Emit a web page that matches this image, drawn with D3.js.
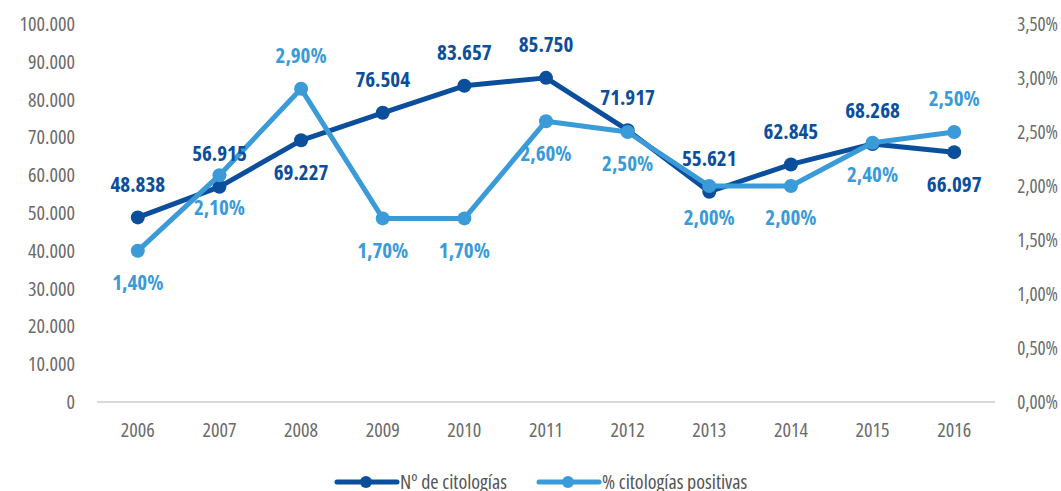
<!DOCTYPE html>
<html>
<head>
<meta charset="utf-8">
<script src="https://cdn.jsdelivr.net/npm/d3@7"></script>
<style>
  body { margin: 0; background: #fff; }
  svg text { font-family: "Open Sans", sans-serif; font-stretch: condensed; }
</style>
</head>
<body>
<div id="chart"></div>
<script>
// Data
const years = ['2006', '2007', '2008', '2009', '2010', '2011', '2012', '2013', '2014', '2015', '2016'];
const citologias = [48838, 56915, 69227, 76504, 83657, 85750, 71917, 55621, 62845, 68268, 66097];
const positivas = [1.40, 2.10, 2.90, 1.70, 1.70, 2.60, 2.50, 2.00, 2.00, 2.40, 2.50];
const leftTicks = [0, 10000, 20000, 30000, 40000, 50000, 60000, 70000, 80000, 90000, 100000];
const rightTicks = [0, 0.5, 1, 1.5, 2, 2.5, 3, 3.5];
// label side for each point
const citoLabelSide = ['up', 'up', 'down', 'up', 'up', 'up', 'up', 'up', 'up', 'up', 'down'];
const posLabelSide = ['down', 'down', 'up', 'down', 'down', 'down', 'down', 'down', 'down', 'down', 'up'];
const seriesNames = ['Nº de citologías', '% citologías positivas'];

const darkBlue = '#0b4f9c', lightBlue = '#3a9bd8';
const width = 1061, height = 491;
const margin = {top: 24, right: 66, bottom: 89, left: 97};

const svg = d3.select('#chart').append('svg')
  .attr('width', width)
  .attr('height', height);

const x = d3.scaleBand().domain(years).range([margin.left, width - margin.right]);
const yL = d3.scaleLinear().domain([0, 100000]).range([height - margin.bottom, margin.top]);
const yR = d3.scaleLinear().domain([0, 3.5]).range([height - margin.bottom, margin.top]);
const cx = d => x(d) + x.bandwidth() / 2;

const fmtThousands = d3.formatLocale({decimal: ',', thousands: '.', grouping: [3], currency: ['', '']}).format(',d');
const fmtPct = v => v.toFixed(2).replace('.', ',') + '%';

// Baseline
svg.append('line')
  .attr('x1', margin.left).attr('x2', width - margin.right)
  .attr('y1', yL(0)).attr('y2', yL(0))
  .attr('stroke', '#d9d9d9').attr('stroke-width', 2);

// Left axis labels
svg.append('g').selectAll('text')
  .data(leftTicks).enter().append('text')
  .attr('x', 75)
  .attr('y', d => yL(d))
  .attr('dy', '0.35em')
  .attr('text-anchor', 'end')
  .attr('fill', '#6b6b6b')
  .attr('font-size', 20)
  .text(d => fmtThousands(d));

// Right axis labels
svg.append('g').selectAll('text')
  .data(rightTicks).enter().append('text')
  .attr('x', 1058)
  .attr('y', d => yR(d))
  .attr('dy', '0.35em')
  .attr('text-anchor', 'end')
  .attr('fill', '#6b6b6b')
  .attr('font-size', 19)
  .text(d => fmtPct(d));

// Year labels
svg.append('g').selectAll('text')
  .data(years).enter().append('text')
  .attr('x', d => cx(d))
  .attr('y', 430)
  .attr('dy', '0.35em')
  .attr('text-anchor', 'middle')
  .attr('fill', '#6b6b6b')
  .attr('font-size', 20)
  .text(d => d);

function drawSeries(values, yScale, color, sides) {
  const pts = values.map((v, i) => ({year: years[i], v: v, side: sides[i]}));
  svg.append('path')
    .datum(pts)
    .attr('fill', 'none')
    .attr('stroke', color)
    .attr('stroke-width', 5)
    .attr('stroke-linejoin', 'round')
    .attr('d', d3.line().x(d => cx(d.year)).y(d => yScale(d.v)));
  svg.append('g').selectAll('circle')
    .data(pts).enter().append('circle')
    .attr('cx', d => cx(d.year))
    .attr('cy', d => yScale(d.v))
    .attr('r', 7)
    .attr('fill', color);
  return pts;
}

function drawLabels(pts, yScale, color, fmt) {
  svg.append('g').selectAll('text')
    .data(pts).enter().append('text')
    .attr('x', d => cx(d.year))
    .attr('y', d => yScale(d.v) + (d.side === 'up' ? -33 : 32))
    .attr('dy', '0.35em')
    .attr('text-anchor', 'middle')
    .attr('fill', color)
    .attr('font-size', 21)
    .attr('font-weight', 'bold')
    .text(d => fmt(d.v));
}

const citoPts = drawSeries(citologias, yL, darkBlue, citoLabelSide);
const posPts = drawSeries(positivas, yR, lightBlue, posLabelSide);
drawLabels(citoPts, yL, darkBlue, fmtThousands);
drawLabels(posPts, yR, lightBlue, fmtPct);

// Legend
const legend = [
  {name: seriesNames[0], color: darkBlue, x: 337},
  {name: seriesNames[1], color: lightBlue, x: 539}
];
const lg = svg.append('g').selectAll('g')
  .data(legend).enter().append('g')
  .attr('transform', d => `translate(${d.x},482)`);
lg.append('line')
  .attr('x1', 0).attr('x2', 60)
  .attr('stroke', d => d.color)
  .attr('stroke-width', 5)
  .attr('stroke-linecap', 'round');
lg.append('circle')
  .attr('cx', 29).attr('r', 6)
  .attr('fill', d => d.color);
lg.append('text')
  .attr('x', 63)
  .attr('dy', '0.35em')
  .attr('fill', '#555')
  .attr('font-size', 20)
  .text(d => d.name);
</script>
</body>
</html>
